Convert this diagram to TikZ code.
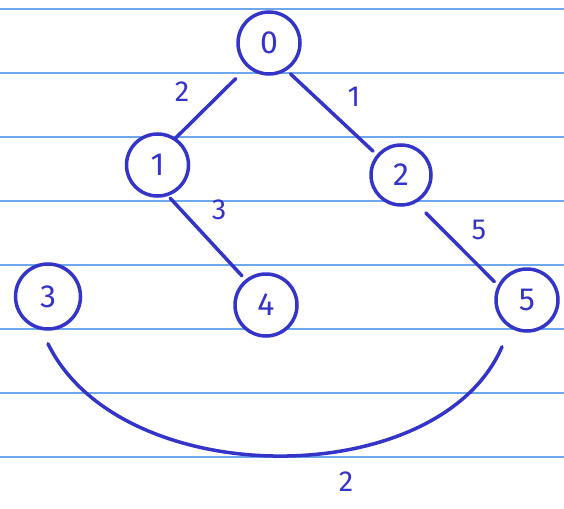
\documentclass[tikz,border=0pt]{standalone}
\usepackage{fontspec}
\setmainfont{Fira Sans}
\definecolor{ink}{RGB}{52,52,200}
\definecolor{ruling}{RGB}{110,168,236}

\begin{document}
\begin{tikzpicture}[x=1pt, y=-1pt,
    vertex/.style={circle, draw=ink, fill=white, line width=3.5pt, minimum size=62pt,
        inner sep=0pt, text=ink, font=\fontsize{32}{32}\selectfont},
    weight/.style={text=ink, font=\fontsize{29}{29}\selectfont},
    link/.style={draw=ink, line width=3.5pt, line cap=round}]
    \useasboundingbox[fill=white] (0,0) rectangle (564,508);

    % Paper
    \foreach \y in {9,73,...,457}
        \draw[ruling, line width=1.5pt] (0,\y) -- (564,\y);

    % Vertices
    \node[vertex] (n0) at (269,43) {0};
    \node[vertex] (n1) at (157.5,165) {1};
    \node[vertex, minimum size=60pt] (n2) at (401,175) {2};
    \node[vertex, minimum size=65pt] (n3) at (48,296.5) {3};
    \node[vertex] (n4) at (266,305) {4};
    \node[vertex] (n5) at (527,300) {5};

    % Edges
    \draw[link, shorten <=16pt] (n0.228) -- (n1.56.5);
    \draw[link, shorten <=5pt, shorten >=5pt] (n0.303) -- (n2.140);
    \draw[link, shorten <=3pt, shorten >=5pt] (n1.289) -- (n4.129.6);
    \draw[link, shorten <=14pt, shorten >=5pt] (n2.298) -- (n5.153.4);
    \draw[link] ([yshift=-13pt]n3.south) .. controls (121,493) and (439,493) .. ([xshift=-25pt, yshift=-14pt]n5.south);

    % Weights
    \node[weight] (w01) at (182,92) {2};
    \node[weight] (w02) at (354,97) {1};
    \node[weight] (w14) at (219,210) {3};
    \node[weight] (w25) at (479,230) {5};
    \node[weight] (w35) at (346,482) {2};
\end{tikzpicture}
\end{document}
